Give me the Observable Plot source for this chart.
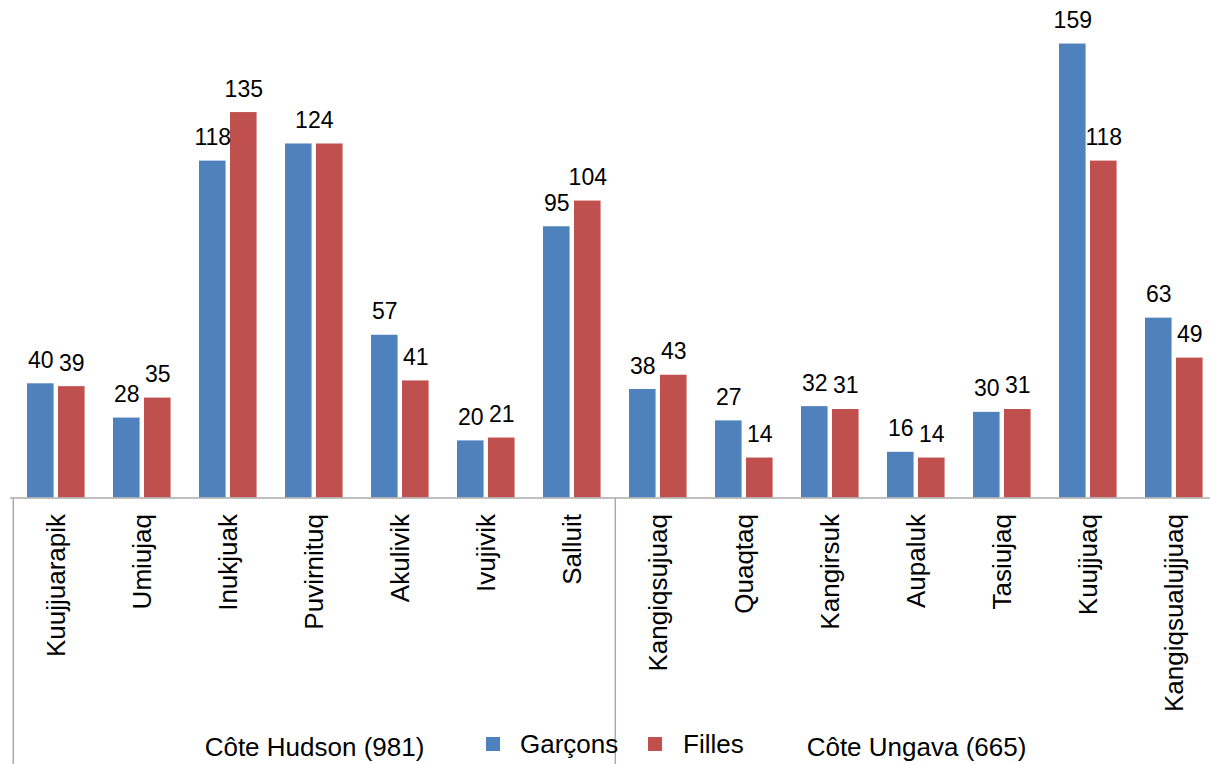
<!DOCTYPE html>
<html><head><meta charset="utf-8">
<script src="https://cdn.jsdelivr.net/npm/d3@7"></script>
<script src="https://cdn.jsdelivr.net/npm/@observablehq/plot@0.6"></script>
<style>
body{margin:0;background:#fff;font-family:"Liberation Sans",Arial,sans-serif;}
#wrap{position:relative;width:1210px;height:764px;overflow:hidden;}
#chart svg{max-width:none !important;display:block;}
#legend{position:absolute;left:0;top:0;width:1210px;height:764px;pointer-events:none;font-size:26px;color:#000;}
.sw{position:absolute;width:14px;height:14px;}
.lt{position:absolute;line-height:26px;white-space:nowrap;}
</style>
</head><body>
<div id="wrap"><div id="chart"></div><div id="legend"></div></div>
<script>
const communities = ["Kuujjuarapik","Umiujaq","Inukjuak","Puvirnituq","Akulivik","Ivujivik","Salluit",
  "Kangiqsujuaq","Quaqtaq","Kangirsuk","Aupaluk","Tasiujaq","Kuujjuaq","Kangiqsualujjuaq"];
const garcons = [40,28,118,124,57,20,95,38,27,32,16,30,159,63];
const filles  = [39,35,135,124,41,21,104,43,14,31,14,31,118,49];
const seriesNames = ["Garçons","Filles"];
const seriesColors = ["#4F81BD","#C0504D"];
const groupLabels = ["Côte Hudson (981)","Côte Ungava (665)"];
const groupFirst = ["Kuujjuarapik","Kangiqsujuaq"];
const groupMiddle = ["Puvirnituq","Aupaluk"];

const rows = communities.map((c,i)=>({c, g:garcons[i], f:filles[i]}));

const W = 1220, H = 764, mL = 10, mR = 0, mT = 40.7, mB = 266.5;
const step = (W - mL - mR) / communities.length;
const frameH = H - mT - mB;
const barW = 27, gap = 4, padL = 14;
const dxG = padL + barW/2 - step/2;
const dxF = padL + barW + gap + barW/2 - step/2;
const grey = "#ababab";
const font = "Liberation Sans, Arial, sans-serif";

const chart = Plot.plot({
  width: W, height: H,
  marginLeft: mL, marginRight: mR, marginTop: mT, marginBottom: mB,
  style: {fontFamily: font, color: "#000", background: "transparent", maxWidth: "none"},
  x: {type: "band", domain: communities, padding: 0, axis: null},
  y: {domain: [0, 160], axis: null},
  marks: [
    Plot.barY(rows, {x: "c", y: "g", fill: seriesColors[0], insetLeft: padL, insetRight: step - padL - barW}),
    Plot.barY(rows, {x: "c", y: "f", fill: seriesColors[1], insetLeft: padL + barW + gap, insetRight: step - padL - 2*barW - gap}),
    Plot.ruleY([0], {stroke: grey, strokeWidth: 1.5}),
    Plot.ruleX(groupFirst, {x: d => d, dx: -step/2, stroke: grey, strokeWidth: 1.5, insetTop: frameH, insetBottom: -mB}),
    Plot.text(rows.filter(d => d.g !== d.f), {x: "c", y: "g", text: d => String(d.g), dx: dxG, dy: -16, lineAnchor: "bottom", fontSize: 23, fill: "#000"}),
    Plot.text(rows.filter(d => d.g !== d.f), {x: "c", y: "f", text: d => String(d.f), dx: dxF, dy: -16, lineAnchor: "bottom", fontSize: 23, fill: "#000"}),
    Plot.text(rows.filter(d => d.g === d.f), {x: "c", y: "g", text: d => String(d.g), dx: (dxG+dxF)/2, dy: -16, lineAnchor: "bottom", fontSize: 23, fill: "#000"}),
    Plot.axisX({tickSize: 0, tickPadding: 16, tickRotate: -90, fontSize: 26, label: null, fill: "#000"}),
    Plot.text(groupLabels, {x: (d,i) => groupMiddle[i], frameAnchor: "bottom", dy: 258, lineAnchor: "bottom", fontSize: 26, fill: "#000"})
  ]
});
chart.style.maxWidth = "none";
document.getElementById("chart").appendChild(chart);

const legend = document.getElementById("legend");
const legendPos = [{sx: 486, tx: 520}, {sx: 648, tx: 683}];
seriesNames.forEach((n,i) => {
  const s = document.createElement("div");
  s.className = "sw"; s.style.left = legendPos[i].sx + "px"; s.style.top = "737px"; s.style.background = seriesColors[i];
  legend.appendChild(s);
  const t = document.createElement("div");
  t.className = "lt"; t.style.left = legendPos[i].tx + "px"; t.style.top = "731px"; t.textContent = n;
  legend.appendChild(t);
});
</script>
</body></html>
